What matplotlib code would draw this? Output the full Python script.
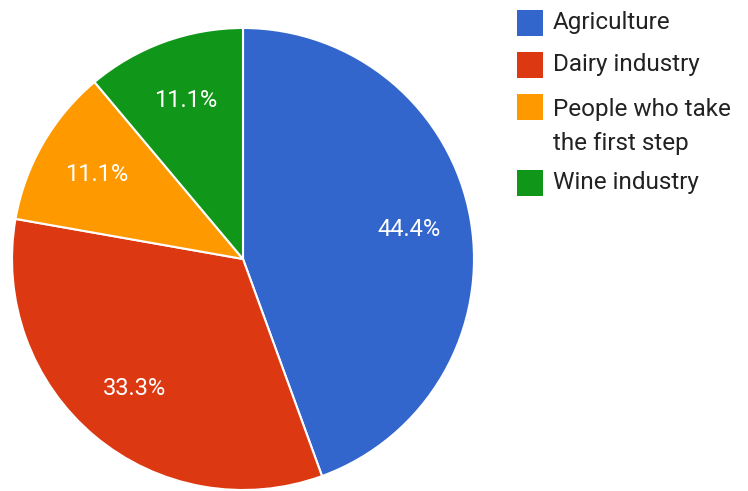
import matplotlib

matplotlib.use("Agg", force=True)
import matplotlib.pyplot as plt
from matplotlib.patches import Rectangle

categories = ["Agriculture", "Dairy industry", "People who take\nthe first step", "Wine industry"]
counts = [4, 3, 1, 1]
colors = ["#3366cc", "#dc3912", "#ff9900", "#109618"]

W, H = 748, 491
fig = plt.figure(figsize=(W / 100, H / 100), dpi=100)
ax = fig.add_axes([0, 0, 1, 1])

wedges, texts, autotexts = ax.pie(
    counts,
    colors=colors,
    center=(243, H - 259),
    radius=231,
    startangle=90,
    counterclock=False,
    autopct="%.1f%%",
    pctdistance=0.73,
    wedgeprops=dict(edgecolor="white", linewidth=1.5),
    textprops=dict(color="white", fontsize=17, family="Roboto"),
    frame=True,
)
ax.axis("off")
ax.set_xlim(0, W)
ax.set_ylim(0, H)
ax.set_aspect("equal")

# legend drawn by hand, one row per slice
row_y = [23, 65, 107, 183]
for label, color, y in zip(categories, colors, row_y):
    ax.add_patch(Rectangle((517, H - y - 13), 26, 26, facecolor=color, edgecolor="none"))
    if "\n" in label:
        ax.text(553, H - y + 9, label, ha="left", va="top",
                fontsize=17.5, family="Roboto", color="#222222", linespacing=1.6)
    else:
        ax.text(553, H - y + 1, label, ha="left", va="center",
                fontsize=17.5, family="Roboto", color="#222222")

fig.savefig("out.png", dpi=100)
